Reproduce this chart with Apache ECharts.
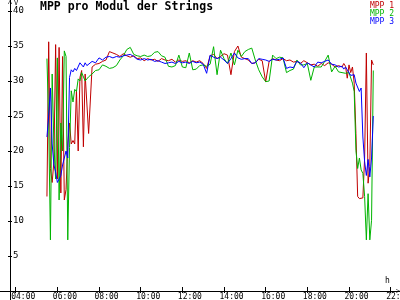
<!DOCTYPE html>
<html>
<head>
<meta charset="utf-8">
<script src="https://cdn.jsdelivr.net/npm/echarts@6/dist/echarts.min.js"></script>
<style>html,body{margin:0;padding:0;background:#fff;overflow:hidden}#c{width:420px;height:312px}</style>
</head>
<body>
<div id="c"></div>
<script>
const times = ['05:30','05:35','05:40','05:45','05:50','05:55','06:00','06:05','06:10','06:15','06:20','06:25','06:30','06:35','06:40','06:45','06:50','06:55','07:00','07:05','07:10','07:15','07:20','07:25','07:30',
'07:40','07:50','08:00','08:10','08:20','08:30','08:40','08:50','09:00','09:10','09:20','09:30','09:40','09:50','10:00','10:10','10:20','10:30','10:40','10:50','11:00','11:10','11:20','11:30','11:40','11:50','12:00','12:10','12:20','12:30','12:40','12:50','13:00','13:10','13:20','13:30','13:40','13:50','14:00','14:10','14:20','14:30','14:40','14:50','15:00','15:10','15:20','15:30','15:40','15:50','16:00','16:10','16:20','16:30','16:40','16:50','17:00','17:10','17:20','17:30','17:40','17:50','18:00','18:10','18:20','18:30','18:40','18:50','19:00','19:10','19:20',
'19:30','19:35','19:40','19:45','19:50','19:55','20:00','20:05','20:10','20:15','20:20','20:25','20:30','20:35','20:40','20:45','20:50','20:55','21:00','21:05','21:10'];

const mpp1 = [13.5,35.6,17.5,15.5,18.5,35.2,16.0,34.8,14.0,33.5,13.0,14.5,21.0,24.0,21.0,21.5,21.0,28.7,20.0,30.5,31.5,20.6,31.0,31.2,22.5,
32.0,32.4,32.5,32.8,33.0,34.2,34.0,33.8,33.5,33.9,33.6,33.4,33.6,33.2,33.3,32.9,33.2,33.0,33.1,32.8,33.2,33.0,32.9,33.1,32.7,33.0,32.8,32.9,32.6,32.9,32.7,32.9,32.5,31.8,33.6,33.8,33.2,33.5,33.9,33.7,30.9,34.2,35.0,33.4,33.2,33.0,32.5,32.6,33.1,32.9,29.9,32.8,33.2,33.0,32.9,33.2,32.9,33.0,32.7,32.8,32.5,32.9,32.6,32.3,32.4,32.1,32.5,32.2,32.6,32.4,32.0,
32.2,32.4,32.0,32.5,32.1,30.4,32.3,31.2,32.0,29.7,22.5,13.5,13.2,13.2,13.3,19.0,34.0,15.4,17.8,33.0,32.3];

const mpp2 = [33.2,24.0,7.3,31.0,21.0,16.0,33.3,13.0,24.0,20.0,34.3,33.5,7.3,20.5,28.6,27.0,28.8,28.5,30.3,30.0,31.2,31.0,30.0,30.3,30.6,
31.0,31.5,31.6,32.3,32.1,31.8,31.9,32.2,33.0,33.6,34.5,34.8,33.8,33.6,33.5,33.7,33.5,33.6,34.1,34.2,33.6,33.4,32.1,32.0,32.2,33.7,32.0,31.9,34.0,31.6,31.7,32.2,32.3,32.1,32.4,34.9,30.9,34.4,33.2,32.5,34.0,32.3,34.4,33.5,34.2,34.5,34.7,33.0,31.6,30.6,29.9,30.0,33.7,33.2,33.4,33.3,31.2,31.5,31.7,33.0,32.3,32.3,32.5,30.1,32.0,32.0,32.0,32.8,33.7,31.3,32.1,
31.3,31.5,31.2,31.4,31.1,31.3,31.2,31.0,29.7,28.5,20.1,17.5,19.0,17.3,16.8,13.5,7.3,13.9,7.3,10.1,31.5];

const mpp3 = [22.0,25.0,29.0,21.0,18.0,17.0,15.5,16.0,16.5,18.0,19.0,20.0,19.0,30.5,31.6,31.3,31.8,31.5,31.7,32.6,32.4,32.0,32.6,32.2,32.3,
32.8,32.6,33.3,33.0,33.4,33.5,33.3,33.5,33.4,33.6,33.7,33.8,33.5,33.1,33.0,33.2,33.0,33.1,32.8,32.9,32.7,32.5,32.6,32.7,32.5,32.8,32.6,32.7,32.5,32.8,32.6,32.7,32.4,31.1,33.7,33.4,33.2,33.4,33.0,32.5,33.2,34.0,33.3,33.1,33.2,33.2,32.5,32.6,33.2,33.1,33.0,32.8,33.1,33.0,33.1,33.3,31.8,32.0,31.9,32.8,32.6,31.9,32.6,32.3,32.0,32.7,32.6,32.8,33.0,32.4,32.3,
32.0,31.8,32.1,31.7,32.0,31.6,31.4,30.8,30.7,30.9,29.7,29.6,28.5,29.0,22.0,18.5,16.5,18.8,16.3,19.0,25.0];

const seriesNames = ['MPP 1','MPP 2','MPP 3'];
const seriesColors = ['#c00000','#00b400','#0000ff'];
const xTicks = [4,6,8,10,12,14,16,18,20,22];
const yTicks = [5,10,15,20,25,30,35,40];
const titleText = 'MPP pro Modul der Strings';

const toH = s => Number(s.slice(0,2)) + Number(s.slice(3,5))/60;
const mk = arr => times.map((t,i) => [toH(t), arr[i]]);
const pad = n => (n < 10 ? '0' : '') + n;
const FONT = 'DejaVu Sans Mono';

const X_MIN = 3.246, X_MAX = 22.449, Y_MIN = 0, Y_MAX = 41.571;

const chart = echarts.init(document.getElementById('c'), null, {renderer: 'canvas'});
const chev = 'path://M0,10 L5,0 L10,10 L8.6,10 L5,2.8 L1.4,10 Z';
chart.setOption({
  animation: false,
  backgroundColor: '#ffffff',
  title: {
    text: titleText, left: 40, top: 1, padding: 0,
    textStyle: {fontFamily: FONT, fontWeight: 'bold', fontSize: 11.5, color: '#000'}
  },
  legend: {
    orient: 'vertical', right: 26, top: 2, padding: 0, itemGap: 0,
    icon: 'none', itemWidth: 0, itemHeight: 8, align: 'left',
    textStyle: {fontFamily: FONT, fontSize: 8, lineHeight: 8, padding: [0,0,0,-5]},
    data: seriesNames.map((n,i) => ({name: n, textStyle: {color: seriesColors[i]}}))
  },
  grid: [
    {left: 0, right: 20, top: 0, bottom: 21, containLabel: false, outerBoundsMode: 'none'},
    {left: 0, right: 20, top: 291, bottom: 12, containLabel: false, outerBoundsMode: 'none'}
  ],
  xAxis: [{
    type: 'value', gridIndex: 0, min: X_MIN, max: X_MAX, position: 'bottom',
    axisLine: {onZero: false, lineStyle: {color: '#000', width: 1}, symbol: ['none', chev], symbolSize: [7, 4], symbolOffset: [0, -2]},
    axisTick: {show: true, inside: false, length: 2, lineStyle: {color: '#000'}, customValues: xTicks},
    axisLabel: {customValues: xTicks, formatter: v => pad(Math.round(v)) + ':00', fontFamily: FONT, fontSize: 8, lineHeight: 6, color: '#000', margin: 2.5, align: 'left', padding: [0,0,0,-4.5]},
    splitLine: {show: false}
  }, {
    type: 'value', gridIndex: 0, min: X_MIN, max: X_MAX, position: 'bottom',
    axisLine: {onZero: false, show: false},
    axisTick: {show: true, inside: true, length: 4, lineStyle: {color: '#000'}, customValues: xTicks},
    axisLabel: {show: false}, splitLine: {show: false}
  }, {
    type: 'value', gridIndex: 1, min: X_MIN, max: X_MAX, show: false
  }],
  yAxis: [{
    type: 'value', gridIndex: 0, min: Y_MIN, max: Y_MAX, position: 'left', offset: -10,
    axisLine: {show: true, onZero: false, lineStyle: {color: '#000', width: 1}, symbol: ['none', chev], symbolSize: [7, 4], symbolOffset: [0, -2]},
    axisTick: {show: true, inside: false, length: 2, lineStyle: {color: '#000'}, customValues: yTicks},
    axisLabel: {inside: true, customValues: yTicks, fontFamily: FONT, fontSize: 9, color: '#000', margin: 3},
    splitLine: {show: false}
  }, {
    type: 'value', gridIndex: 0, min: Y_MIN, max: Y_MAX, position: 'left', offset: -10,
    axisLine: {show: false, onZero: false},
    axisTick: {show: true, inside: true, length: 2, lineStyle: {color: '#000'}, customValues: yTicks},
    axisLabel: {show: false}, splitLine: {show: false}
  }, {
    type: 'value', gridIndex: 1, min: -1, max: 0, position: 'left', offset: -10,
    axisLine: {show: true, onZero: false, lineStyle: {color: '#000', width: 1}},
    axisTick: {show: false}, axisLabel: {show: false}, splitLine: {show: false}
  }],
  graphic: [
    {type: 'text', left: 14, top: 0, style: {text: 'V', font: '7px "DejaVu Sans Mono"', fill: '#000'}},
    {type: 'text', left: 385, top: 277, style: {text: 'h', font: '8px "DejaVu Sans Mono"', fill: '#000'}}
  ],
  series: [mpp1, mpp2, mpp3].map((arr, i) => ({
    name: seriesNames[i], type: 'line', xAxisIndex: 0, yAxisIndex: 0, data: mk(arr), showSymbol: false, symbol: 'none',
    lineStyle: {width: 1, color: seriesColors[i]}, itemStyle: {color: seriesColors[i]},
    emphasis: {disabled: true}
  }))
});
</script>
</body>
</html>
